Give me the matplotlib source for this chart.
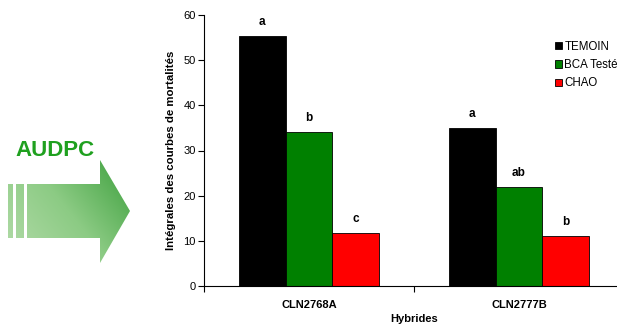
import numpy as np
import matplotlib.pyplot as plt
from matplotlib.patches import Polygon
from matplotlib.colors import LinearSegmentedColormap

plt.rcParams['font.family'] = ['Liberation Sans', 'DejaVu Sans']

# données
hybrides = ['CLN2768A', 'CLN2777B']
traitements = ['TEMOIN', 'BCA Testé', 'CHAO']
couleurs = ['#000000', '#008000', '#ff0000']
valeurs = {
    'TEMOIN': [55.3, 35.0],
    'BCA Testé': [34.0, 22.0],
    'CHAO': [11.8, 11.1],
}
lettres = {
    'TEMOIN': ['a', 'a'],
    'BCA Testé': ['b', 'ab'],
    'CHAO': ['c', 'b'],
}

W, H = 617, 329
fig = plt.figure(figsize=(W / 100, H / 100), dpi=100)

# --- flèche AUDPC (décor à gauche, coordonnées en pixels) ---
deco = fig.add_axes([0, 0, 1, 1])
deco.axis('off')

cmap = LinearSegmentedColormap.from_list('vert', ['#b4dcaa', '#8ccb84', '#3c9f3c'])
gx, gy = np.meshgrid(np.linspace(0, 1, 200), np.linspace(0, 1, 200))
grad = 0.6 * gx + 0.4 * (1 - gy)

arrow_pts = [(27, 184), (100, 184), (100, 160), (130, 211), (100, 263), (100, 238), (27, 238)]
for pts in [arrow_pts,
            [(8, 184), (13, 184), (13, 238), (8, 238)],
            [(16, 184), (24, 184), (24, 238), (16, 238)]]:
    poly = Polygon(pts, closed=True, facecolor='none', edgecolor='none')
    deco.add_patch(poly)
    im = deco.imshow(grad, cmap=cmap, extent=(8, 130, 263, 160), origin='upper',
                     aspect='auto', zorder=1)
    im.set_clip_path(poly)
deco.set_xlim(0, W)
deco.set_ylim(H, 0)
deco.text(54.5, 151, 'AUDPC', color='#1fa01f', fontsize=16, fontweight='bold',
          ha='center', va='center')

# --- graphique ---
ax = fig.add_axes([204 / W, 43 / H, 420 / W, 271 / H])
x = np.arange(len(hybrides))
largeur = 0.222
for i, t in enumerate(traitements):
    pos = x + (i - 1) * largeur
    ax.bar(pos, valeurs[t], width=largeur, color=couleurs[i], edgecolor='black',
           linewidth=0.6, label=t, zorder=2)
    for xp, v, l in zip(pos, valeurs[t], lettres[t]):
        ax.text(xp, v + 1.8, l, ha='center', va='bottom', fontsize=8.5,
                fontweight='bold')

ax.set_xlim(-0.5, 1.5)
ax.set_ylim(0, 60)
ax.set_yticks(np.arange(0, 61, 10))
ax.tick_params(axis='y', labelsize=8, length=4, width=0.8, pad=2)
ax.set_xticks(x)
ax.set_xticklabels(hybrides, fontsize=8, fontweight='bold')
ax.set_xticks([-0.5, 0.5, 1.5], minor=True)
ax.tick_params(axis='x', which='major', length=0, pad=10)
ax.tick_params(axis='x', which='minor', length=4, width=0.8)
ax.spines['top'].set_visible(False)
ax.spines['right'].set_visible(False)
ax.spines['left'].set_linewidth(0.8)
ax.spines['bottom'].set_linewidth(0.8)
ax.set_ylabel('Intégrales des courbes de mortalités', fontsize=8.2, fontweight='bold',
              labelpad=5)
ax.set_xlabel('Hybrides', fontsize=8, fontweight='bold', labelpad=3)
ax.patch.set_alpha(0)

ax.legend(loc='upper left', bbox_to_anchor=(550 / W, 1 - 36 / H),
          bbox_transform=fig.transFigure, frameon=False, fontsize=8.3,
          handlelength=0.6, handleheight=0.6, handletextpad=0.25,
          labelspacing=0.55, borderaxespad=0)

fig.savefig('out.png', dpi=100)
